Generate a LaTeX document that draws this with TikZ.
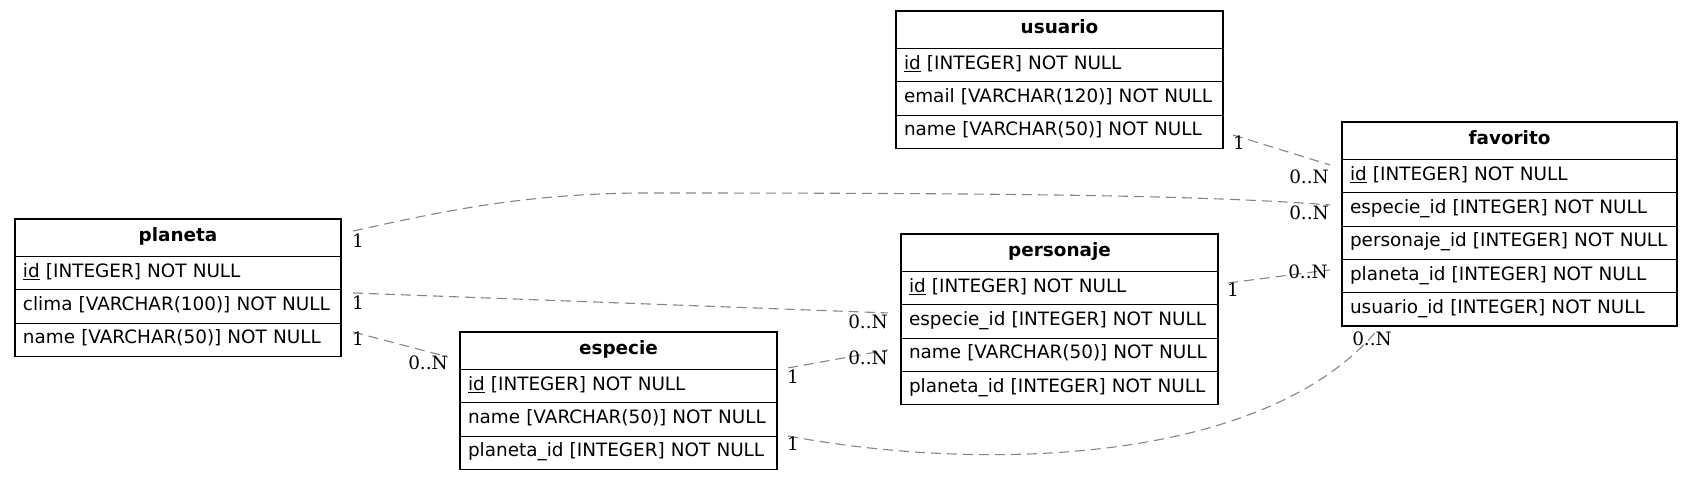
\documentclass[tikz,border=0pt]{standalone}
\usepackage{fontspec}
\newfontfamily\tabfont{DejaVu Sans}
\newfontfamily\labfont{DejaVu Serif}
\begin{document}
\begin{tikzpicture}[x=1pt,y=-1pt,
  cellbase/.style={draw=black, line width=1.2pt, anchor=north west, outer sep=0pt,
    inner xsep=8pt, inner ysep=0pt, text height=13.5pt, text depth=5.5pt},
  hdr/.style={cellbase, minimum height=37.5pt, align=center,
    font=\tabfont\bfseries\fontsize{18.4}{20}\selectfont},
  fld/.style={cellbase, minimum height=33.3pt, align=left,
    font=\tabfont\fontsize{18.4}{20}\selectfont},
  lab/.style={inner sep=0pt, font=\labfont\fontsize{18.4}{20}\selectfont},
  rel/.style={draw=black!48, dash pattern=on 10pt off 6pt, line width=1.1pt}]
\useasboundingbox (0,0) rectangle (1692,479);

% planeta
\node[hdr, text width=310pt] (pla) at (15,219) {\mbox{planeta}};
\node[fld, text width=310pt] (pla-id) at (pla.south west) {\mbox{\underline{id} [INTEGER] NOT NULL}};
\node[fld, text width=310pt] (pla-cli) at (pla-id.south west) {\mbox{clima [VARCHAR(100)] NOT NULL}};
\node[fld, text width=310pt] (pla-nam) at (pla-cli.south west) {\mbox{name [VARCHAR(50)] NOT NULL}};

% especie
\node[hdr, text width=301pt] (esp) at (460,332) {\mbox{especie}};
\node[fld, text width=301pt] (esp-id) at (esp.south west) {\mbox{\underline{id} [INTEGER] NOT NULL}};
\node[fld, text width=301pt] (esp-nam) at (esp-id.south west) {\mbox{name [VARCHAR(50)] NOT NULL}};
\node[fld, text width=301pt] (esp-pla) at (esp-nam.south west) {\mbox{planeta\_id [INTEGER] NOT NULL}};

% usuario
\node[hdr, text width=311pt] (usu) at (896,11) {\mbox{usuario}};
\node[fld, text width=311pt] (usu-id) at (usu.south west) {\mbox{\underline{id} [INTEGER] NOT NULL}};
\node[fld, text width=311pt] (usu-ema) at (usu-id.south west) {\mbox{email [VARCHAR(120)] NOT NULL}};
\node[fld, text width=311pt] (usu-nam) at (usu-ema.south west) {\mbox{name [VARCHAR(50)] NOT NULL}};

% personaje
\node[hdr, text width=301pt] (per) at (901,234) {\mbox{personaje}};
\node[fld, text width=301pt] (per-id) at (per.south west) {\mbox{\underline{id} [INTEGER] NOT NULL}};
\node[fld, text width=301pt] (per-esp) at (per-id.south west) {\mbox{especie\_id [INTEGER] NOT NULL}};
\node[fld, text width=301pt] (per-nam) at (per-esp.south west) {\mbox{name [VARCHAR(50)] NOT NULL}};
\node[fld, text width=301pt] (per-pla) at (per-nam.south west) {\mbox{planeta\_id [INTEGER] NOT NULL}};

% favorito
\node[hdr, text width=319pt] (fav) at (1342,122) {\mbox{favorito}};
\node[fld, text width=319pt] (fav-id) at (fav.south west) {\mbox{\underline{id} [INTEGER] NOT NULL}};
\node[fld, text width=319pt] (fav-esp) at (fav-id.south west) {\mbox{especie\_id [INTEGER] NOT NULL}};
\node[fld, text width=319pt] (fav-per) at (fav-esp.south west) {\mbox{personaje\_id [INTEGER] NOT NULL}};
\node[fld, text width=319pt] (fav-pla) at (fav-per.south west) {\mbox{planeta\_id [INTEGER] NOT NULL}};
\node[fld, text width=319pt] (fav-usu) at (fav-pla.south west) {\mbox{usuario\_id [INTEGER] NOT NULL}};

% connectors
\draw[rel] ([xshift=10pt,yshift=-3.2pt]usu-nam.east) -- ([xshift=-12pt,yshift=11.2pt]fav-id.west);
\draw[rel] ([xshift=12pt,yshift=6.75pt]pla.east) .. controls (440,212) and (520,194) .. (640,193)
   .. controls (1000,193) and (1200,195) .. ([xshift=-12pt,yshift=4.5pt]fav-esp.west);
\draw[rel] ([xshift=12pt,yshift=13.5pt]pla-cli.east) -- ([xshift=-13pt,yshift=8.5pt]per-esp.west);
\draw[rel] ([xshift=12pt,yshift=7.8pt]pla-nam.east) -- ([xshift=-12pt,yshift=-6.25pt]esp.west);
\draw[rel] ([xshift=11pt,yshift=18.2pt]esp-id.east) -- ([xshift=-13pt,yshift=4.8pt]per-nam.west);
\draw[rel] ([xshift=10pt,yshift=5.2pt]per-id.east) -- ([xshift=-12pt,yshift=6.2pt]fav-pla.west);
\draw[rel] ([xshift=11pt,yshift=16.8pt]esp-pla.east) .. controls (980,472) and (1260,465) .. ([xshift=33pt,yshift=-6.8pt]fav-usu.south west);

% cardinality labels
\node[lab] (l1a) at (1239,143) {1};
\node[lab] (l1b) at (1309,177) {0..N};
\node[lab] (l2a) at (358,241) {1};
\node[lab] (l2b) at (1309,213) {0..N};
\node[lab] (l3a) at (358,303) {1};
\node[lab] (l3b) at (868,322) {0..N};
\node[lab] (l4a) at (358,339) {1};
\node[lab] (l4b) at (428,363) {0..N};
\node[lab] (l5a) at (793,377) {1};
\node[lab] (l5b) at (868,358) {0..N};
\node[lab] (l6a) at (1233,290) {1};
\node[lab] (l6b) at (1308,272) {0..N};
\node[lab] (l7a) at (793,444) {1};
\node[lab] (l7b) at (1372,339) {0..N};
\end{tikzpicture}
\end{document}
